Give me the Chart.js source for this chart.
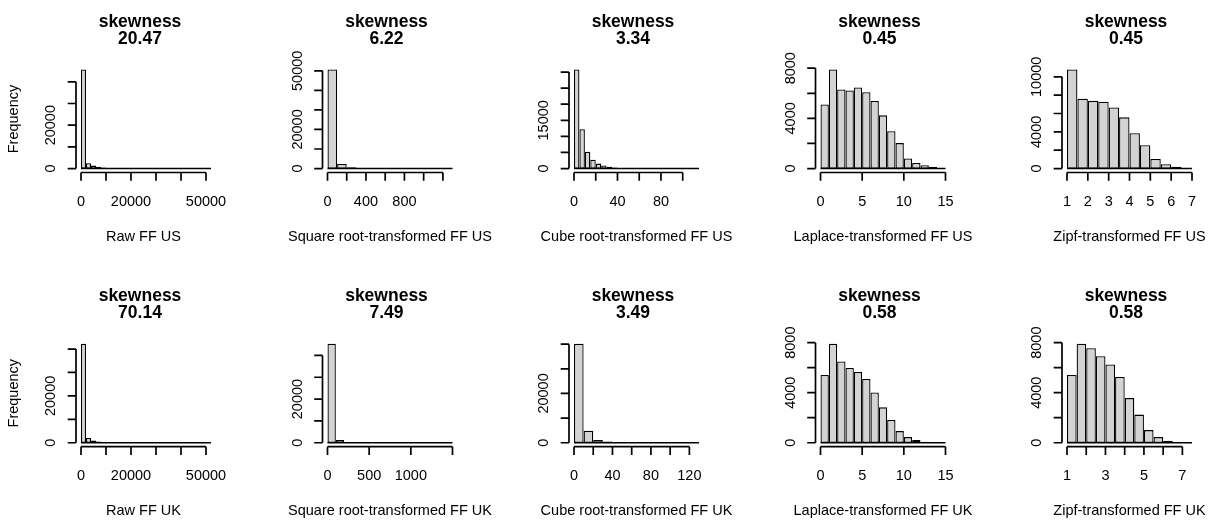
<!DOCTYPE html>
<html>
<head>
<meta charset="utf-8">
<script src="https://cdn.jsdelivr.net/npm/chart.js@4.4.0/dist/chart.umd.min.js"></script>
<style>
  html, body { margin: 0; padding: 0; background: #fff; }
  #wrap { position: relative; width: 1209px; height: 520px; overflow: hidden; }
  #wrap canvas { position: absolute; left: 0; top: 0; }
</style>
</head>
<body>
<div id="wrap"></div>
<script>
// skewness printed under each title
const skewUS = ['20.47', '6.22', '3.34', '0.45', '0.45'];
const skewUK = ['70.14', '7.49', '3.49', '0.58', '0.58'];

const xTitlesUS = ['Raw FF US', 'Square root-transformed FF US', 'Cube root-transformed FF US',
                   'Laplace-transformed FF US', 'Zipf-transformed FF US'];
const xTitlesUK = ['Raw FF UK', 'Square root-transformed FF UK', 'Cube root-transformed FF UK',
                   'Laplace-transformed FF UK', 'Zipf-transformed FF UK'];

// histogram counts, one value per bin
const rawUS     = [45700, 2450, 1350, 800, 450, 300, 220, 170, 130, 110, 90, 80, 70, 60, 50,
                   0, 0, 0, 0, 0, 0, 0, 0, 0, 0, 0, 0, 0];
const sqrtUS    = [50700, 2300, 600, 300, 150, 60, 30, 15, 8, 4, 2, 1, 1];
const cubeUS    = [30800, 12200, 5200, 2770, 1540, 950, 560, 330, 200, 130, 90, 60, 40, 25, 15,
                   10, 6, 4, 2, 1, 1, 0, 1];
const laplaceUS = [5110, 7900, 6300, 6220, 6460, 6090, 5380, 4240, 2980, 2030, 810, 450, 260, 130, 30];
const zipfUS    = [10800, 7600, 7380, 7290, 6660, 5580, 3860, 2550, 1040, 480, 190, 30];

const rawUK     = [42300, 2000, 1000, 500, 280, 170, 110, 75, 55, 40, 30, 22, 17, 13, 10,
                   8, 6, 5, 4, 3, 3, 2, 2, 1, 1, 1, 1, 1];
const sqrtUK    = [45400, 1240, 350, 130, 55, 25, 12, 6, 4, 2, 1, 1, 1, 0, 1];
const cubeUK    = [40200, 4860, 1100, 520, 190, 80, 35, 15, 8, 4, 2, 1, 1];
const laplaceUK = [5420, 7920, 6500, 5970, 5650, 5100, 4010, 2830, 1820, 930, 450, 210, 80, 30, 10];
const zipfUK    = [5420, 7920, 7550, 6920, 6260, 5260, 3570, 2250, 1010, 450, 160, 40, 5];

// axis ticks (all tick marks) and the ones that carry a label
const xTicksRaw  = [0, 10000, 20000, 30000, 40000, 50000];
const xLabRaw    = [0, 20000, 50000];
const xTicksSqUS = [0, 200, 400, 600, 800, 1000, 1200];
const xLabSqUS   = [0, 400, 800];
const xTicksSqUK = [0, 500, 1000, 1500];
const xLabSqUK   = [0, 500, 1000];
const xTicksCbUS = [0, 20, 40, 60, 80, 100];
const xLabCbUS   = [0, 40, 80];
const xTicksCbUK = [0, 20, 40, 60, 80, 100, 120];
const xLabCbUK   = [0, 40, 80, 120];
const xTicksLap  = [0, 5, 10, 15];
const xTicksZipf = [1, 2, 3, 4, 5, 6, 7];
const xLabZipfUK = [1, 3, 5, 7];

const yTicks40k  = [0, 10000, 20000, 30000, 40000];
const yLab40k    = [0, 20000];
const yTicks50k  = [0, 10000, 20000, 30000, 40000, 50000];
const yLab50k    = [0, 20000, 50000];
const yTicks30k  = [0, 5000, 10000, 15000, 20000, 25000, 30000];
const yLab30k    = [0, 15000];
const yTicks8k   = [0, 2000, 4000, 6000, 8000];
const yLab8k     = [0, 4000, 8000];
const yTicks10k  = [0, 2000, 4000, 6000, 8000, 10000];
const yLab10k    = [0, 4000, 10000];

// bins: first break, bin width, x limits
const panels = [
  { skew: skewUS[0], xt: xTitlesUS[0], counts: rawUS, start: 0, step: 2000, xlim: [0, 50000],
    xTicks: xTicksRaw, xLab: xLabRaw, yTicks: yTicks40k, yLab: yLab40k },
  { skew: skewUS[1], xt: xTitlesUS[1], counts: sqrtUS, start: 0, step: 100, xlim: [0, 1300],
    xTicks: xTicksSqUS, xLab: xLabSqUS, yTicks: yTicks50k, yLab: yLab50k },
  { skew: skewUS[2], xt: xTitlesUS[2], counts: cubeUS, start: 0, step: 5, xlim: [0, 115],
    xTicks: xTicksCbUS, xLab: xLabCbUS, yTicks: yTicks30k, yLab: yLab30k },
  { skew: skewUS[3], xt: xTitlesUS[3], counts: laplaceUS, start: 0, step: 1, xlim: [0, 15],
    xTicks: xTicksLap, xLab: xTicksLap, yTicks: yTicks8k, yLab: yLab8k },
  { skew: skewUS[4], xt: xTitlesUS[4], counts: zipfUS, start: 1, step: 0.5, xlim: [1, 7],
    xTicks: xTicksZipf, xLab: xTicksZipf, yTicks: yTicks10k, yLab: yLab10k },
  { skew: skewUK[0], xt: xTitlesUK[0], counts: rawUK, start: 0, step: 2000, xlim: [0, 50000],
    xTicks: xTicksRaw, xLab: xLabRaw, yTicks: yTicks40k, yLab: yLab40k },
  { skew: skewUK[1], xt: xTitlesUK[1], counts: sqrtUK, start: 0, step: 100, xlim: [0, 1500],
    xTicks: xTicksSqUK, xLab: xLabSqUK, yTicks: yTicks40k, yLab: yLab40k },
  { skew: skewUK[2], xt: xTitlesUK[2], counts: cubeUK, start: 0, step: 10, xlim: [0, 130],
    xTicks: xTicksCbUK, xLab: xLabCbUK, yTicks: yTicks40k, yLab: yLab40k },
  { skew: skewUK[3], xt: xTitlesUK[3], counts: laplaceUK, start: 0, step: 1, xlim: [0, 15],
    xTicks: xTicksLap, xLab: xTicksLap, yTicks: yTicks8k, yLab: yLab8k },
  { skew: skewUK[4], xt: xTitlesUK[4], counts: zipfUK, start: 1, step: 0.5, xlim: [1, 7.5],
    xTicks: xTicksZipf, xLab: xLabZipfUK, yTicks: yTicks8k, yLab: yLab8k },
];

// page layout (R par(mfrow = c(2, 5)) look)
const PAGE_W = 1209, PAGE_H = 520;
const colLeft = [76, 322.5, 569, 815.5, 1062];
const rowTop = [65.5, 339.7];
const PLOT_W = 135, PLOT_H = 107;
const TICK = 8.3;
const FONT = '"Liberation Sans", Arial, Helvetica, sans-serif';

// R pads the user range by 4% on both sides
function rRange(a, b) {
  const d = (b - a) * 0.04;
  return [a - d, b + d];
}

function rAxes(p, col) {
  return {
    id: 'rAxes',
    beforeDatasetsDraw(chart) {
      // empty bins still show up as a line along zero
      const { ctx, chartArea: a, scales: { x, y } } = chart;
      const end = p.start + p.step * p.counts.length;
      const y0 = y.getPixelForValue(0);
      ctx.save();
      ctx.beginPath();
      ctx.rect(a.left, a.top, a.right - a.left, a.bottom - a.top);
      ctx.clip();
      ctx.strokeStyle = '#000';
      ctx.lineWidth = 1.5;
      ctx.beginPath();
      ctx.moveTo(x.getPixelForValue(p.start), y0);
      ctx.lineTo(x.getPixelForValue(end), y0);
      ctx.stroke();
      ctx.restore();
    },
    afterDraw(chart) {
      const { ctx, chartArea: a, scales: { x, y } } = chart;
      ctx.save();
      ctx.strokeStyle = '#000';
      ctx.fillStyle = '#000';
      ctx.lineWidth = 1.7;

      const yp = p.yTicks.map(v => y.getPixelForValue(v));
      const xp = p.xTicks.map(v => x.getPixelForValue(v));
      ctx.beginPath();
      ctx.moveTo(a.left, yp[0]);
      ctx.lineTo(a.left, yp[yp.length - 1]);
      yp.forEach(py => { ctx.moveTo(a.left, py); ctx.lineTo(a.left - TICK, py); });
      ctx.moveTo(xp[0], a.bottom);
      ctx.lineTo(xp[xp.length - 1], a.bottom);
      xp.forEach(px => { ctx.moveTo(px, a.bottom); ctx.lineTo(px, a.bottom + TICK); });
      ctx.stroke();

      ctx.font = '14.5px ' + FONT;
      ctx.textAlign = 'center';
      ctx.textBaseline = 'alphabetic';
      p.xLab.forEach(v => ctx.fillText(String(v), x.getPixelForValue(v), a.bottom + 33.5));
      p.yLab.forEach(v => {
        ctx.save();
        ctx.translate(a.left - 21, y.getPixelForValue(v));
        ctx.rotate(-Math.PI / 2);
        ctx.fillText(String(v), 0, 0);
        ctx.restore();
      });
      ctx.fillText(p.xt, (a.left + a.right) / 2, a.bottom + 68);
      if (col === 0) {
        ctx.save();
        ctx.translate(18, (a.top + a.bottom) / 2);
        ctx.rotate(-Math.PI / 2);
        ctx.fillText('Frequency', 0, 0);
        ctx.restore();
      }

      ctx.font = 'bold 17.5px ' + FONT;
      const cx = (a.left + a.right) / 2 - 3.5;
      ctx.fillText('skewness', cx, a.top - 38.8);
      ctx.fillText(p.skew, cx, a.top - 22);
      ctx.restore();
    }
  };
}

const wrap = document.getElementById('wrap');
panels.forEach((p, i) => {
  const col = i % 5, row = Math.floor(i / 5);
  const cv = document.createElement('canvas');
  cv.width = PAGE_W;
  cv.height = PAGE_H;
  wrap.appendChild(cv);

  const xr = rRange(p.xlim[0], p.xlim[1]);
  const yr = rRange(0, Math.max(...p.counts));
  const left = colLeft[col], top = rowTop[row];

  new Chart(cv.getContext('2d'), {
    type: 'bar',
    data: {
      datasets: [{
        data: p.counts.map((c, k) => ({ x: p.start + (k + 0.5) * p.step, y: c })),
        backgroundColor: '#d3d3d3',
        borderColor: '#000',
        borderWidth: 1.3,
        borderSkipped: false,
        inflateAmount: 0,
        barPercentage: 1,
        categoryPercentage: 1,
        clip: 0
      }]
    },
    options: {
      responsive: false,
      animation: false,
      events: [],
      layout: {
        padding: { left: left, top: top, right: PAGE_W - left - PLOT_W, bottom: PAGE_H - top - PLOT_H }
      },
      plugins: { legend: { display: false }, tooltip: { enabled: false } },
      scales: {
        x: {
          type: 'linear', display: false, offset: false, min: xr[0], max: xr[1],
          ticks: { includeBounds: false, stepSize: p.step }
        },
        y: { type: 'linear', display: false, min: yr[0], max: yr[1] }
      }
    },
    plugins: [rAxes(p, col)]
  });
});
</script>
</body>
</html>
